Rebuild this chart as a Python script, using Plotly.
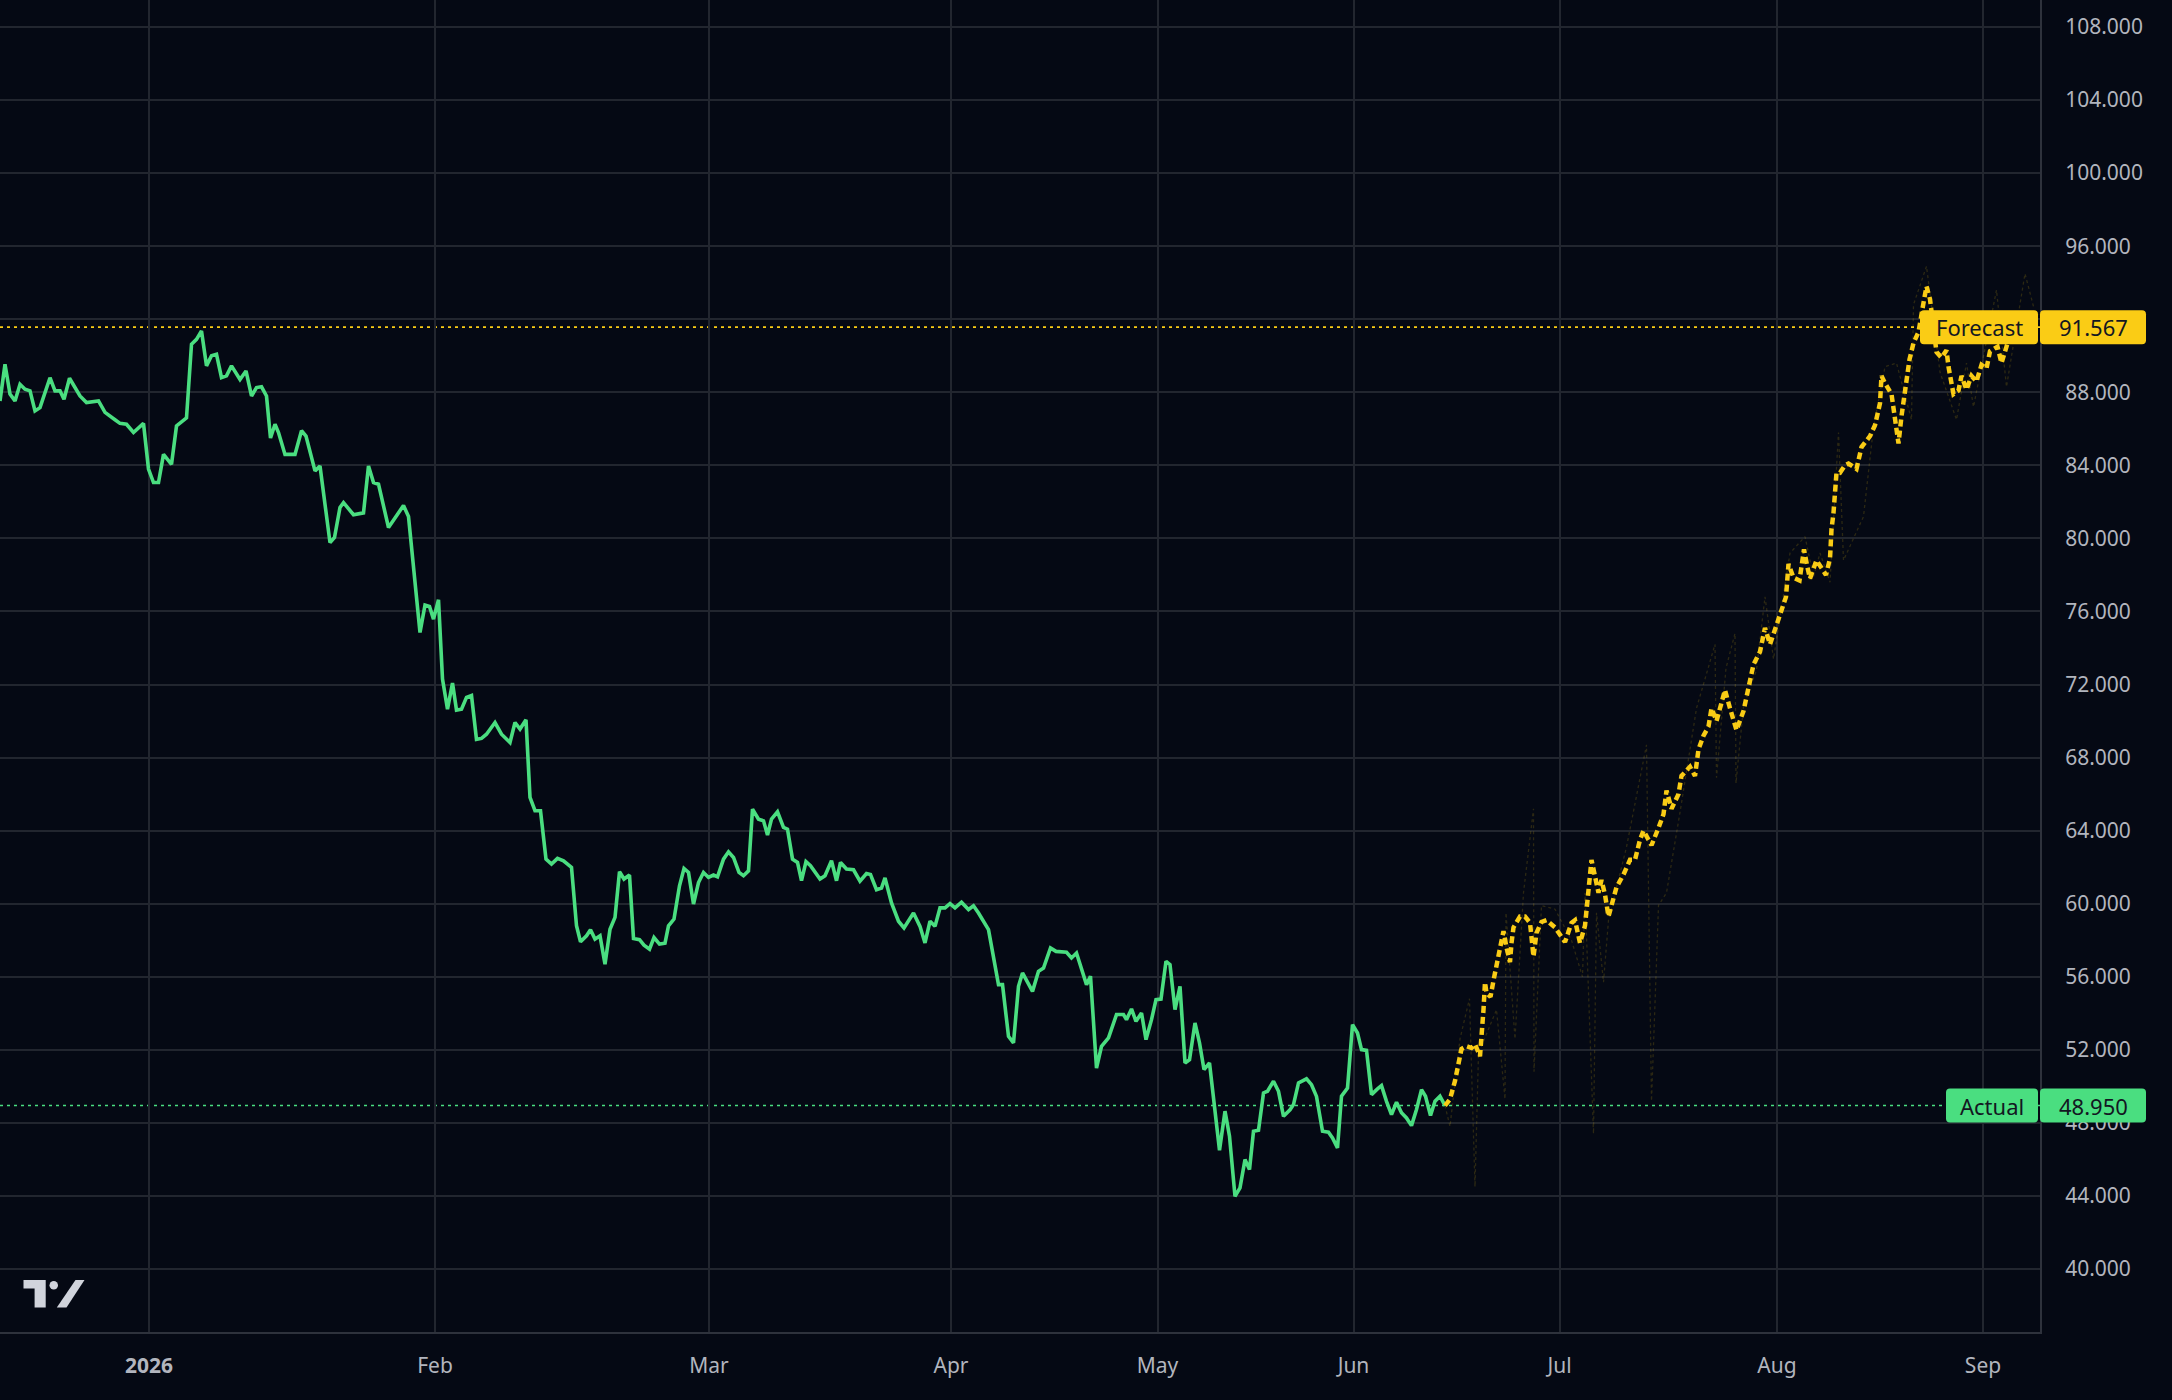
import plotly.graph_objects as go

# actual series (bar index, price)
actual_bar = [0.0, 1.0, 2.0, 3.0, 4.0, 5.0, 6.0, 7.0, 8.0, 10.0, 11.0, 12.0, 12.8, 13.9, 16.0, 17.3,
              19.7, 21.0, 23.0, 24.0, 25.3, 26.7, 28.7, 29.7, 30.7, 31.7, 32.7, 34.3, 35.3, 37.3,
              38.3, 39.3, 40.3, 41.3, 42.3, 43.3, 44.3, 45.3, 46.3, 48.0, 49.2, 50.3, 51.3, 52.3,
              53.3, 54.1, 55.0, 55.7, 57.0, 59.0, 60.3, 61.2, 63.0, 64.0, 66.0, 66.9, 68.0, 68.7,
              70.7, 72.7, 73.7, 74.7, 75.7, 77.7, 80.7, 81.7, 84.0, 85.0, 85.9, 86.7, 87.7, 88.5,
              89.5, 90.5, 91.3, 92.3, 93.3, 94.3, 95.3, 96.3, 97.3, 99.0, 100.3, 102.0, 103.0,
              104.0, 105.2, 106.0, 107.0, 108.1, 109.2, 110.3, 111.5, 112.7, 114.3, 115.3, 116.1,
              117.3, 118.1, 119.0, 120.0, 121.0, 122.0, 123.0, 123.9, 124.8, 125.9, 126.7, 127.9,
              128.8, 129.9, 130.8, 131.9, 133.0, 133.7, 134.8, 135.9, 136.8, 137.7, 138.7, 139.7,
              140.7, 141.7, 142.7, 143.5, 144.7, 145.7, 146.7, 147.8, 148.7, 149.7, 150.5, 151.7,
              152.7, 153.5, 154.3, 155.5, 156.7, 157.5, 158.5, 159.5, 160.3, 161.2, 162.1, 164.0,
              165.0, 166.3, 167.3, 168.1, 169.3, 170.7, 172.0, 173.3, 174.1, 175.3, 176.3, 177.0,
              178.3, 179.7, 180.8, 182.7, 184.0, 185.0, 186.0, 187.0, 188.0, 189.0, 190.0, 191.0,
              192.3, 193.7, 194.7, 195.7, 197.7, 199.7, 200.5, 201.7, 202.7, 203.7, 204.5, 206.5,
              207.7, 208.7, 210.1, 211.2, 213.3, 214.3, 215.3, 217.3, 218.1, 219.3, 220.3, 221.7,
              223.3, 224.7, 225.3, 226.3, 227.2, 228.3, 229.2, 230.3, 231.2, 232.2, 233.2, 234.0,
              235.0, 236.0, 237.0, 237.9, 239.0, 239.9, 240.8, 241.9, 242.8, 243.9, 245.0, 245.9,
              247.0, 248.0, 249.0, 249.9, 250.7, 251.7, 252.7, 253.5, 254.7, 255.7, 256.7, 258.0,
              258.7, 259.7, 261.3, 262.3, 263.3, 264.5, 265.7, 266.5, 267.5, 268.3, 269.5, 270.5,
              271.5, 272.3, 273.3, 274.3, 275.5, 276.3, 277.3, 278.3, 279.3, 280.3, 281.3, 282.3,
              283.3, 284.3, 285.1, 286.1, 287.0, 288.0, 289.0]
actual_val = [87.53, 89.54, 87.9, 87.53, 88.44, 88.17, 88.08, 86.98, 87.16, 88.8, 88.08, 88.08, 87.62,
              88.77, 87.8, 87.44, 87.53, 86.9, 86.5, 86.3, 86.25, 85.8, 86.3, 83.8, 83.06, 83.06,
              84.6, 84.06, 86.16, 86.6, 90.63, 90.9, 91.36, 89.45, 90.0, 90.08, 88.8, 88.9, 89.45,
              88.7, 89.17, 87.8, 88.26, 88.3, 87.8, 85.5, 86.25, 85.8, 84.6, 84.6, 85.9, 85.6,
              83.7, 83.97, 79.77, 80.05, 81.7, 81.96, 81.3, 81.4, 83.97, 83.06, 82.97, 80.6, 81.8,
              81.2, 74.85, 76.35, 76.27, 75.58, 76.64, 72.3, 70.65, 72.08, 70.6, 70.65, 71.3, 71.4,
              69.0, 69.05, 69.28, 69.92, 69.28, 68.83, 69.92, 69.56, 70.07, 65.82, 65.09, 65.09,
              62.44, 62.17, 62.48, 62.35, 61.99, 58.79, 57.92, 58.24, 58.57, 58.06, 58.24, 56.69,
              58.6, 59.25, 61.75, 61.35, 61.57, 58.1, 58.03, 57.73, 57.51, 58.15, 57.79, 57.84,
              58.79, 59.16, 60.98, 61.93, 61.71, 59.98, 61.16, 61.71, 61.44, 61.57, 61.47, 62.44,
              62.84, 62.53, 61.71, 61.53, 61.8, 65.18, 64.63, 64.54, 63.76, 64.63, 65.03, 64.18,
              64.08, 62.44, 62.26, 61.26, 62.3, 62.08, 61.35, 61.53, 62.35, 61.26, 62.26, 61.9,
              61.86, 61.23, 61.65, 61.6, 60.77, 60.86, 61.41, 60.04, 59.04, 58.67, 59.49, 58.76,
              57.85, 59.04, 58.76, 59.77, 59.77, 60.0, 59.77, 60.08, 59.68, 59.89, 59.49, 58.58,
              55.57, 55.57, 52.74, 52.38, 55.48, 56.21, 55.2, 56.3, 56.48, 57.58, 57.39, 57.34,
              57.03, 57.3, 55.57, 56.03, 51.0, 52.19, 52.65, 53.93, 53.93, 53.65, 54.24, 53.56,
              54.02, 52.56, 53.65, 54.75, 54.78, 56.85, 56.66, 54.2, 55.48, 51.28, 51.46, 53.47,
              52.38, 50.92, 51.28, 49.0, 46.5, 48.64, 47.27, 43.98, 44.44, 45.99, 45.44, 47.54,
              47.6, 49.64, 49.73, 50.28, 49.73, 48.36, 48.72, 49.0, 50.19, 50.41, 50.09, 49.45,
              47.54, 47.49, 47.18, 46.63, 49.46, 49.91, 53.38, 52.92, 52.01, 51.97, 49.55, 49.86,
              50.04, 49.18, 48.45, 49.13, 48.55, 48.27, 47.85, 48.73, 49.82, 49.46, 48.4, 49.18,
              49.46, 48.95]

# forecast path
forecast_bar = [289.0, 290.0, 291.0, 291.7, 292.3, 293.3, 294.3, 295.0, 296.0, 296.7, 297.0, 297.3,
                298.1, 298.7, 299.5, 300.1, 300.7, 301.3, 302.0, 302.3, 302.7, 304.0, 305.0, 306.0,
                306.7, 307.3, 308.3, 309.3, 311.0, 313.0, 314.3, 315.0, 316.0, 317.0, 317.7, 318.3,
                319.0, 319.7, 320.3, 321.0, 321.7, 322.3, 323.3, 324.7, 326.0, 327.0, 328.0, 328.7,
                330.3, 331.7, 332.7, 333.3, 334.3, 335.7, 336.3, 338.0, 339.0, 339.7, 340.7, 341.7,
                342.3, 343.3, 345.0, 346.0, 347.3, 348.7, 349.9, 350.7, 352.0, 353.0, 354.0, 355.3,
                356.3, 357.2, 357.7, 358.7, 359.9, 360.8, 361.5, 362.0, 363.3, 365.2, 366.0, 366.3,
                366.7, 367.0, 367.3, 368.0, 369.0, 369.7, 371.3, 372.3, 374.0, 375.0, 376.0, 376.3,
                377.0, 378.3, 379.0, 379.7, 380.3, 380.7, 381.3, 381.9, 382.7, 383.7, 384.7, 385.3,
                386.0, 386.7, 387.3, 388.3, 389.3, 389.7, 390.3, 390.7, 391.7, 392.3, 393.3, 394.3,
                395.3, 396.3, 397.3, 398.0, 399.5, 400.3, 401.3, 402.7, 404.5, 405.8]
forecast_val = [48.95, 49.3, 50.3, 51.2, 52.05, 52.2, 52.1, 52.3, 51.65, 54.2, 55.7, 55.1, 54.9, 55.8,
                56.9, 57.85, 58.5, 57.6, 56.8, 57.85, 58.7, 59.3, 59.3, 58.95, 57.1, 58.4, 59.0, 59.1,
                58.7, 57.9, 58.95, 59.1, 57.85, 58.8, 60.6, 62.4, 61.5, 60.6, 61.3, 60.5, 59.3, 59.95,
                60.9, 61.6, 62.4, 62.4, 63.5, 64.0, 63.2, 64.15, 64.9, 66.2, 65.2, 66.0, 67.0, 67.5,
                67.0, 68.45, 69.2, 69.7, 70.7, 70.0, 71.7, 70.7, 69.5, 70.55, 72.1, 73.1, 73.8, 75.1,
                74.2, 75.3, 76.0, 76.8, 78.6, 77.85, 77.7, 79.4, 78.4, 77.8, 78.8, 78.0, 78.9, 80.5,
                81.4, 82.5, 83.6, 83.6, 84.0, 84.1, 83.8, 85.0, 85.6, 86.2, 87.4, 88.9, 88.5, 87.9,
                86.7, 85.2, 86.7, 87.6, 88.9, 89.8, 90.7, 91.3, 92.9, 93.8, 93.1, 91.6, 90.2, 89.9,
                90.3, 89.4, 88.3, 87.9, 88.1, 88.9, 88.15, 88.9, 88.6, 89.5, 89.3, 90.25, 90.5, 89.6,
                90.5, 91.8, 92.3, 91.567]

# faint spread path around the forecast
band_bar = [289.0, 290.0, 292.0, 293.9, 295.0, 295.7, 299.3, 301.0, 301.2, 303.0, 304.7, 306.7,
            306.8, 308.3, 311.0, 314.3, 316.5, 317.0, 318.7, 319.3, 320.7, 321.7, 325.3, 329.3,
            330.3, 331.7, 333.3, 336.0, 339.3, 343.0, 343.3, 345.2, 347.0, 347.2, 348.7, 351.3,
            353.0, 354.7, 358.0, 361.0, 362.7, 364.0, 366.0, 367.7, 368.7, 372.7, 374.7, 377.0,
            379.3, 382.3, 382.7, 385.3, 388.0, 391.3, 393.3, 394.7, 399.3, 401.3, 405.0, 406.7]
band_val = [48.95, 47.8, 52.6, 54.8, 44.5, 51.8, 54.2, 49.3, 59.5, 52.6, 60.6, 65.2, 50.8, 59.9,
            59.7, 58.0, 56.0, 60.6, 47.4, 59.5, 55.7, 59.1, 63.1, 68.7, 49.2, 59.9, 60.6, 65.0,
            70.7, 74.2, 66.9, 72.9, 74.8, 66.6, 70.8, 72.8, 76.8, 73.4, 79.2, 80.1, 77.9, 79.2,
            77.6, 85.8, 78.8, 81.2, 86.1, 89.4, 89.6, 86.5, 92.8, 94.9, 89.1, 86.5, 89.6, 87.2,
            93.6, 88.3, 94.5, 92.7]

month_pos = [29.8, 87.0, 141.8, 190.2, 231.5, 270.7, 311.9, 355.4, 396.6]
month_txt = ["<b>2026</b>", "Feb", "Mar", "Apr", "May", "Jun", "Jul", "Aug", "Sep"]
price_ticks = [40, 44, 48, 52, 56, 60, 64, 68, 72, 76, 80, 84, 88, 92, 96, 100, 104, 108]

last_actual = 48.950
last_forecast = 91.567

BG = "#050914"
GRID = "#22262f"
TXT = "#b2b5be"
GREEN = "#4ade80"
YELLOW = "#facc15"
FONT = "Noto Sans"


def rounded_box(x0, x1, h, r=4):
    # rounded rectangle path in pixels, centred vertically on the anchor
    y0, y1 = -h / 2, h / 2
    return (f"M {x0 + r} {y0} L {x1 - r} {y0} Q {x1} {y0} {x1} {y0 + r} "
            f"L {x1} {y1 - r} Q {x1} {y1} {x1 - r} {y1} L {x0 + r} {y1} "
            f"Q {x0} {y1} {x0} {y1 - r} L {x0} {y0 + r} Q {x0} {y0} {x0 + r} {y0} Z")


fig = go.Figure()

fig.add_trace(go.Scatter(x=band_bar, y=band_val, mode="lines",
                         line=dict(color="rgba(250,204,21,0.16)", width=1.3, dash="dot"),
                         hoverinfo="skip"))
fig.add_trace(go.Scatter(x=actual_bar, y=actual_val, mode="lines",
                         line=dict(color=GREEN, width=3.6), name="Actual"))
fig.add_trace(go.Scatter(x=forecast_bar, y=forecast_val, mode="lines",
                         line=dict(color=YELLOW, width=4.5, dash="7px,4px"), name="Forecast"))

shapes = []
annos = []
# price lines + axis badges
for val, col, label, lw in [(last_forecast, YELLOW, "Forecast", 120), (last_actual, GREEN, "Actual", 94)]:
    shapes.append(dict(type="line", xref="paper", yref="y", x0=0, x1=1, y0=val, y1=val,
                       line=dict(color=col, width=1.6, dash="3px,4px"), layer="between"))
    shapes.append(dict(type="path", xref="paper", yref="y", xsizemode="pixel", ysizemode="pixel",
                       xanchor=1, yanchor=val, path=rounded_box(-lw, -2, 34),
                       fillcolor=col, line=dict(width=0), layer="above"))
    shapes.append(dict(type="path", xref="paper", yref="y", xsizemode="pixel", ysizemode="pixel",
                       xanchor=1, yanchor=val, path=rounded_box(0, 106, 34),
                       fillcolor=col, line=dict(width=0), layer="above"))
    annos.append(dict(xref="paper", yref="y", x=1, y=val, xshift=-(lw + 2) / 2, text=label,
                      xanchor="center", yanchor="middle", showarrow=False,
                      font=dict(family=FONT, size=22, color="#131722")))
    annos.append(dict(xref="paper", yref="y", x=1, y=val, xshift=53, text=f"{val:.3f}",
                      xanchor="center", yanchor="middle", showarrow=False,
                      font=dict(family=FONT, size=22, color="#131722")))

# little TV logo, bottom left
LOGO = "#d1d4dc"
shapes.append(dict(type="path", xref="paper", yref="paper", xsizemode="pixel", ysizemode="pixel",
                   xanchor=0, yanchor=0,
                   path="M 23.5 52 L 45.7 52 L 45.7 24.5 L 34.6 24.5 L 34.6 43.5 L 23.5 43.5 Z",
                   fillcolor=LOGO, line=dict(width=0), layer="above"))
shapes.append(dict(type="circle", xref="paper", yref="paper", xsizemode="pixel", ysizemode="pixel",
                   xanchor=0, yanchor=0, x0=49.5, x1=58, y0=42.5, y1=51,
                   fillcolor=LOGO, line=dict(width=0), layer="above"))
shapes.append(dict(type="path", xref="paper", yref="paper", xsizemode="pixel", ysizemode="pixel",
                   xanchor=0, yanchor=0,
                   path="M 56.8 24.5 L 66.5 24.5 L 84.5 52 L 75.5 52 Z",
                   fillcolor=LOGO, line=dict(width=0), layer="above"))

fig.update_layout(
    width=2172, height=1400,
    margin=dict(l=0, r=132, t=0, b=68),
    paper_bgcolor=BG, plot_bgcolor=BG,
    showlegend=False, hovermode=False,
    shapes=shapes, annotations=annos,
    font=dict(family=FONT, color=TXT, size=21),
)
fig.update_xaxes(range=[0, 408], tickvals=month_pos, ticktext=month_txt,
                 showgrid=True, gridcolor=GRID, gridwidth=2, zeroline=False,
                 showline=True, linecolor="#2e323c", linewidth=2,
                 ticks="", ticklabelstandoff=14, tickfont=dict(size=21, color=TXT))
fig.update_yaxes(range=[36.55, 109.48], side="right", tickvals=price_ticks, tickformat=".3f",
                 showgrid=True, gridcolor=GRID, gridwidth=2, zeroline=False,
                 showline=True, linecolor="#2e323c", linewidth=2,
                 ticks="", ticklabelstandoff=19, tickfont=dict(size=21, color=TXT))

fig.write_html("out.html", config={"displayModeBar": False},
               post_script="document.body.style.margin='0';document.body.style.background='#050914';")
